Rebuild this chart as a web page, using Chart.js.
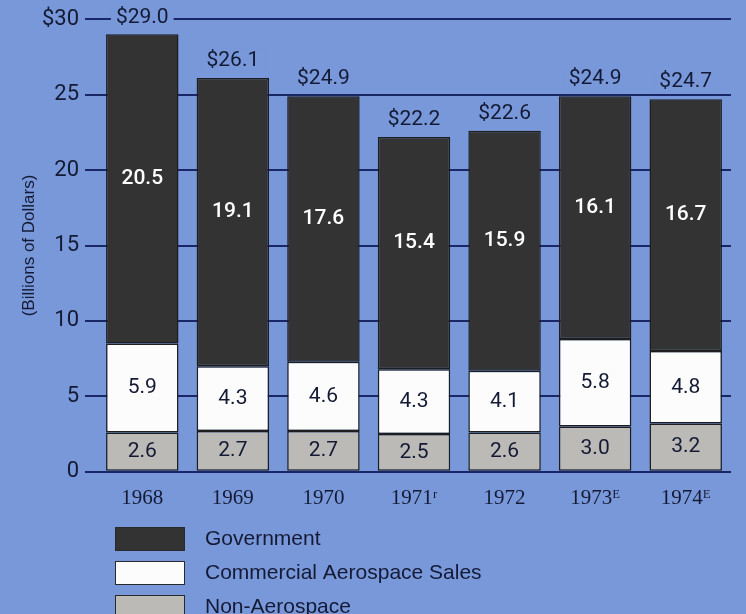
<!DOCTYPE html>
<html>
<head>
<meta charset="utf-8">
<script src="https://cdn.jsdelivr.net/npm/chart.js@4.4.0/dist/chart.umd.min.js"></script>
<style>
  html, body { margin: 0; padding: 0; background: #7898da; }
  #wrap { width: 746px; height: 614px; position: relative; }
</style>
</head>
<body>
<div id="wrap"><canvas id="sales-chart"></canvas></div>
<script>
// Dados do gráfico (bilhões de dólares)
const years = ['1968', '1969', '1970', '1971ʳ', '1972', '1973ᴱ', '1974ᴱ'];
const government = [20.5, 19.1, 17.6, 15.4, 15.9, 16.1, 16.7];
const commercial = [5.9, 4.3, 4.6, 4.3, 4.1, 5.8, 4.8];
const nonAerospace = [2.6, 2.7, 2.7, 2.5, 2.6, 3.0, 3.2];
const totals = [29.0, 26.1, 24.9, 22.2, 22.6, 24.9, 24.7];
const yMax = 30;
const yStep = 5;

const bgColor = '#7898da';
const inkColor = '#141a34';
const numFont = "Roboto, 'Liberation Sans', sans-serif";

// Rótulos dentro das barras e totais em cima
const labelsPlugin = {
  id: 'barLabels',
  afterDatasetsDraw(chart) {
    const ctx = chart.ctx;
    ctx.save();
    ctx.textAlign = 'center';
    ctx.textBaseline = 'middle';
    chart.data.datasets.forEach((ds, i) => {
      const meta = chart.getDatasetMeta(i);
      meta.data.forEach((bar, j) => {
        const cy = (bar.y + bar.base) / 2;
        ctx.font = (i === 2 ? '500 ' : '') + '21px ' + numFont;
        ctx.fillStyle = ds.labelColor;
        ctx.fillText(ds.data[j].toFixed(1), bar.x, cy + (i === 2 ? -10 : 0));
        if (i === chart.data.datasets.length - 1) {
          ctx.font = '21px ' + numFont;
          const txt = '$' + totals[j].toFixed(1);
          const w = ctx.measureText(txt).width;
          ctx.fillStyle = bgColor;
          ctx.fillRect(bar.x - w / 2 - 5, bar.y - 30, w + 10, 24);
          ctx.fillStyle = inkColor;
          ctx.fillText(txt, bar.x, bar.y - 17);
        }
      });
    });
    ctx.restore();
  }
};

// Legenda desenhada à mão, em coluna
const legendPlugin = {
  id: 'columnLegend',
  afterDraw(chart) {
    const ctx = chart.ctx;
    const order = [2, 1, 0];
    ctx.save();
    ctx.textBaseline = 'middle';
    ctx.font = "21px 'Liberation Sans', sans-serif";
    order.forEach((idx, k) => {
      const ds = chart.data.datasets[idx];
      const y = 527 + k * 34;
      ctx.fillStyle = ds.backgroundColor;
      ctx.fillRect(115, y, 70, 24);
      ctx.strokeStyle = '#2a2a2a';
      ctx.lineWidth = 1;
      ctx.strokeRect(115.5, y + 0.5, 69, 23);
      ctx.fillStyle = inkColor;
      ctx.fillText(ds.label, 205, y + 12);
    });
    ctx.restore();
  }
};

const salesData = {
  labels: years,
  datasets: [
    {
      label: 'Non-Aerospace',
      data: nonAerospace,
      backgroundColor: '#bbbab6',
      labelColor: inkColor
    },
    {
      label: 'Commercial Aerospace Sales',
      data: commercial,
      backgroundColor: '#fcfcfc',
      labelColor: inkColor
    },
    {
      label: 'Government',
      data: government,
      backgroundColor: '#333333',
      labelColor: '#ffffff'
    }
  ]
};

const salesConfig = {
  type: 'bar',
  data: salesData,
  options: {
    responsive: true,
    maintainAspectRatio: false,
    animation: false,
    layout: { padding: { top: 14, right: 15, bottom: 97, left: 19 } },
    datasets: {
      bar: {
        barPercentage: 0.8,
        categoryPercentage: 1,
        borderColor: '#1e1e1e',
        borderWidth: 1.5,
        borderSkipped: false
      }
    },
    plugins: {
      legend: { display: false },
      tooltip: { enabled: false }
    },
    scales: {
      x: {
        stacked: true,
        grid: { display: false },
        border: { display: false },
        ticks: {
          color: inkColor,
          padding: 6,
          font: { family: "'Liberation Serif', serif", size: 21 }
        }
      },
      y: {
        stacked: true,
        min: 0,
        max: yMax,
        afterFit(scale) { scale.width = 78; },
        grid: { color: '#1a2766', lineWidth: 2, tickLength: 12 },
        border: { display: false },
        ticks: {
          stepSize: yStep,
          color: inkColor,
          padding: 6,
          font: { family: numFont, size: 22 },
          callback: v => (v === yMax ? '$' + v : v)
        },
        title: {
          display: true,
          text: '(Billions of Dollars)',
          color: inkColor,
          padding: 0,
          font: { family: "'Liberation Sans', sans-serif", size: 17 }
        }
      }
    }
  },
  plugins: [labelsPlugin, legendPlugin]
};

const salesChart = new Chart(document.getElementById('sales-chart'), salesConfig);
</script>
</body>
</html>
